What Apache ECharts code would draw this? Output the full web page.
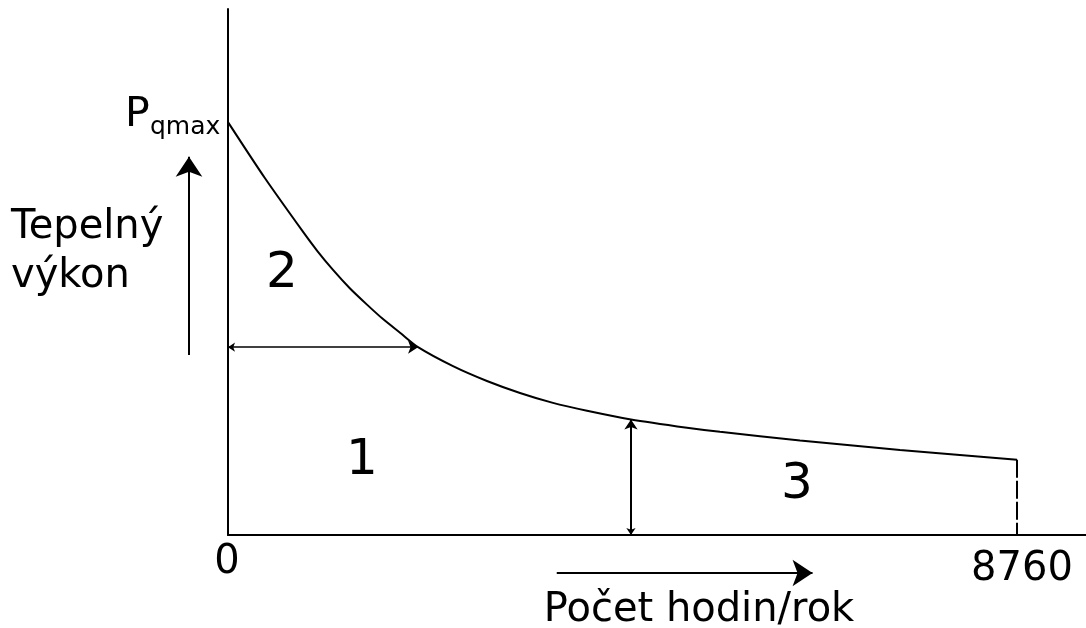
<!DOCTYPE html>
<html>
<head>
<meta charset="utf-8">
<script src="https://cdn.jsdelivr.net/npm/echarts@6/dist/echarts.min.js"></script>
<style>
  html, body { margin: 0; padding: 0; background: #fff; }
  #container { width: 1086px; height: 628px; }
</style>
</head>
<body>
<div id="container"></div>
<script>
// hours of the year (x) and heat output in % of Pqmax (y)
var hours = [0, 411, 844, 988, 1166, 1355, 1543, 1721, 1910, 2110, 2498, 2875, 3242, 3608, 3986, 4474, 5096, 5462, 6351, 7461, 8760];
var power = [100, 86.4, 73.1, 68.9, 64.2, 59.7, 55.8, 52.3, 49.0, 45.5, 40.9, 37.3, 34.4, 32.0, 30.1, 28.0, 26.0, 25.0, 22.9, 20.6, 18.2];

var yearHours = 8760;
var splitHours = 2110;   // horizontal arrow ends on the curve
var splitPower = 45.5;
var baseHours = 4474;    // vertical arrow position
var basePower = 28.0;

var xMax = 9526;
var yMax = 127.4;

var dom = document.getElementById("container");
var myChart = echarts.init(dom);

var curve = [];
for (var i = 0; i < hours.length; i++) {
    curve.push([hours[i], power[i]]);
}

var font = '"DejaVu Sans", Verdana, sans-serif';

var option = {
    animation: false,
    backgroundColor: '#fff',
    grid: { left: 228, top: 9, right: 0, bottom: 93 },
    xAxis: {
        type: 'value', min: 0, max: xMax,
        axisLine: { show: true, onZero: false, lineStyle: { color: '#000', width: 2 } },
        axisTick: { show: false }, axisLabel: { show: false }, splitLine: { show: false }
    },
    yAxis: {
        type: 'value', min: 0, max: yMax,
        axisLine: { show: true, onZero: false, lineStyle: { color: '#000', width: 2 } },
        axisTick: { show: false }, axisLabel: { show: false }, splitLine: { show: false }
    },
    series: [
        {
            // load duration curve
            type: 'line',
            data: curve,
            smooth: 0.25,
            symbol: 'none',
            lineStyle: { color: '#000', width: 2 }
        },
        {
            // end of year, dashed
            type: 'line',
            data: [[yearHours, power[power.length - 1]], [yearHours, 0]],
            symbol: 'none',
            lineStyle: { color: '#000', width: 2, type: [18, 3] }
        },
        {
            // double arrows inside the chart
            type: 'lines',
            coordinateSystem: 'cartesian2d',
            clip: false,
            symbol: ['arrow', 'arrow'],
            symbolSize: [7, 10],
            lineStyle: { color: '#000', width: 1.5, opacity: 1 },
            data: [
                { coords: [[0, splitPower], [splitHours, splitPower]] },
                { coords: [[baseHours, 0], [baseHours, basePower]], lineStyle: { width: 2 } }
            ]
        },
        {
            // direction arrows outside the axes
            type: 'lines',
            coordinateSystem: 'cartesian2d',
            clip: false,
            symbol: ['none', 'arrow'],
            symbolSize: [14, 20],
            lineStyle: { color: '#000', width: 2, opacity: 1 },
            data: [
                { coords: [[-433, 43.6], [-433, 91.6]] },
                { coords: [[3650, -9.2], [6490, -9.2]] }
            ]
        }
    ],
    graphic: [
        { type: 'text', left: 125, top: 95, style: { text: 'P', font: '41px ' + font, fill: '#000' } },
        { type: 'text', left: 150, top: 115, style: { text: 'qmax', font: '25px ' + font, fill: '#000' } },
        { type: 'text', left: 11, top: 208, style: { text: 'Tepelný', font: '40px ' + font, fill: '#000' } },
        { type: 'text', left: 11, top: 257, style: { text: 'výkon', font: '40px ' + font, fill: '#000' } },
        { type: 'text', x: 282, y: 274, style: { text: '2', font: '50px ' + font, fill: '#000', align: 'center', verticalAlign: 'middle' } },
        { type: 'text', x: 362, y: 461, style: { text: '1', font: '50px ' + font, fill: '#000', align: 'center', verticalAlign: 'middle' } },
        { type: 'text', x: 797, y: 485, style: { text: '3', font: '50px ' + font, fill: '#000', align: 'center', verticalAlign: 'middle' } },
        { type: 'text', x: 227, y: 563, style: { text: '0', font: '40px ' + font, fill: '#000', align: 'center', verticalAlign: 'middle' } },
        { type: 'text', x: 1022, y: 570, style: { text: '8760', font: '40px ' + font, fill: '#000', align: 'center', verticalAlign: 'middle' } },
        { type: 'text', x: 699, y: 611, style: { text: 'Počet hodin/rok', font: '40px ' + font, fill: '#000', align: 'center', verticalAlign: 'middle' } }
    ]
};

if (option && typeof option === "object") {
    myChart.setOption(option, true);
}
</script>
</body>
</html>
